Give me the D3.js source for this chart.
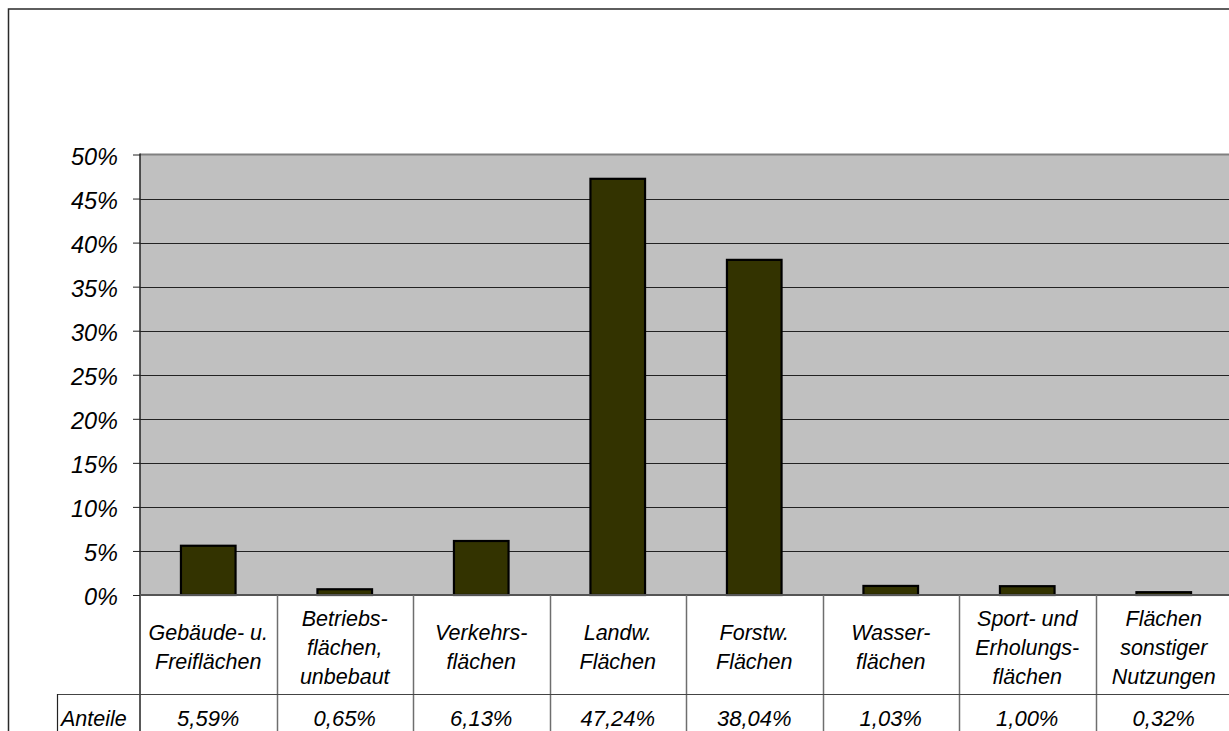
<!DOCTYPE html>
<html>
<head>
<meta charset="utf-8">
<script src="https://cdn.jsdelivr.net/npm/d3@7"></script>
<style>
  html, body { margin: 0; padding: 0; background: #ffffff; }
  svg { display: block; }
  text { font-family: "Liberation Sans", Arial, sans-serif; font-style: italic; fill: #000; }
</style>
</head>
<body>
<svg id="chart" width="1229" height="731"></svg>
<script>
// Flächennutzung: Anteile der Nutzungsarten an der Gesamtfläche
const categories = [
  "Gebäude- u. Freiflächen",
  "Betriebsflächen, unbebaut",
  "Verkehrsflächen",
  "Landw. Flächen",
  "Forstw. Flächen",
  "Wasserflächen",
  "Sport- und Erholungsflächen",
  "Flächen sonstiger Nutzungen"
];
// Zeilenumbrüche der Kategorienbeschriftung in der Tabelle
const categoryLines = [
  ["Gebäude- u.", "Freiflächen"],
  ["Betriebs-", "flächen,", "unbebaut"],
  ["Verkehrs-", "flächen"],
  ["Landw.", "Flächen"],
  ["Forstw.", "Flächen"],
  ["Wasser-", "flächen"],
  ["Sport- und", "Erholungs-", "flächen"],
  ["Flächen", "sonstiger", "Nutzungen"]
];
const seriesName = "Anteile";
const anteile = [5.59, 0.65, 6.13, 47.24, 38.04, 1.03, 1.00, 0.32];
const yTicks = [0, 5, 10, 15, 20, 25, 30, 35, 40, 45, 50];

const de = d3.formatLocale({ decimal: ",", thousands: ".", grouping: [3], currency: ["", " €"] });
const fmtValue = v => de.format(".2f")(v) + "%";
const fmtTick = v => v + "%";

const svg = d3.select("#chart");

// Layout
const plotLeft = 140, plotRight = 1232, plotTop = 154.5, plotBottom = 595;
const rowCatBottom = 694, rowValBottom = 760, tableLeft = 57;

const x = d3.scaleBand().domain(categories).range([plotLeft, plotRight]).padding(0);
const y = d3.scaleLinear().domain([0, 50]).range([plotBottom, plotTop]);
const step = x.step();

// Outer frame
svg.append("rect")
  .attr("x", 8.5).attr("y", 9).attr("width", 1300).attr("height", 800)
  .attr("fill", "none").attr("stroke", "#2a2a2a").attr("stroke-width", 1.5);

// Plot background
svg.append("rect")
  .attr("x", plotLeft).attr("y", plotTop)
  .attr("width", plotRight - plotLeft).attr("height", plotBottom - plotTop)
  .attr("fill", "#c0c0c0");

// Gridlines
svg.append("g").selectAll("line")
  .data(yTicks.filter(t => t > 0 && t < 50))
  .join("line")
  .attr("x1", plotLeft).attr("x2", plotRight)
  .attr("y1", d => Math.round(y(d)) + 0.5).attr("y2", d => Math.round(y(d)) + 0.5)
  .attr("stroke", "#222").attr("stroke-width", 1);

// Plot top border
svg.append("line")
  .attr("x1", plotLeft).attr("x2", plotRight)
  .attr("y1", plotTop).attr("y2", plotTop)
  .attr("stroke", "#808080").attr("stroke-width", 2);

// Bars
const barW = step * 0.4;
svg.append("g").selectAll("rect")
  .data(anteile)
  .join("rect")
  .attr("x", (d, i) => x(categories[i]) + (step - barW) / 2)
  .attr("y", d => y(d))
  .attr("width", barW)
  .attr("height", d => y(0) - y(d))
  .attr("fill", "#333300")
  .attr("stroke", "#000")
  .attr("stroke-width", 2.2);

// Y axis
const yAxis = d3.axisLeft(y).tickValues(yTicks).tickFormat(fmtTick).tickSize(7).tickPadding(15);
const gy = svg.append("g").attr("transform", `translate(${plotLeft},0)`).call(yAxis);
gy.select(".domain").remove();
gy.selectAll(".tick line").attr("stroke", "#222").attr("stroke-width", 1);
gy.selectAll(".tick text")
  .attr("font-family", "Liberation Sans, Arial, sans-serif")
  .attr("font-style", "italic")
  .attr("font-size", 23.5)
  .attr("fill", "#000")
  .attr("dy", "0.42em");
svg.append("line")
  .attr("x1", plotLeft).attr("x2", plotLeft)
  .attr("y1", plotTop - 1).attr("y2", rowValBottom)
  .attr("stroke", "#222").attr("stroke-width", 1.5);

// X axis line (plot bottom)
svg.append("line")
  .attr("x1", plotLeft).attr("x2", plotRight)
  .attr("y1", plotBottom).attr("y2", plotBottom)
  .attr("stroke", "#555").attr("stroke-width", 2);

// Data table: column separators
svg.append("g").selectAll("line")
  .data(categories.slice(1))
  .join("line")
  .attr("x1", d => Math.round(x(d)) + 0.5).attr("x2", d => Math.round(x(d)) + 0.5)
  .attr("y1", plotBottom).attr("y2", rowValBottom)
  .attr("stroke", "#6e6e6e").attr("stroke-width", 1.5);

// Row separator and series cell
svg.append("line")
  .attr("x1", tableLeft).attr("x2", plotRight)
  .attr("y1", rowCatBottom + 0.5).attr("y2", rowCatBottom + 0.5)
  .attr("stroke", "#444").attr("stroke-width", 1.2);
svg.append("line")
  .attr("x1", tableLeft + 0.5).attr("x2", tableLeft + 0.5)
  .attr("y1", rowCatBottom).attr("y2", rowValBottom)
  .attr("stroke", "#222").attr("stroke-width", 1.2);

// Category labels
const catRowMid = (plotBottom + rowCatBottom) / 2;
const lineH = 29;
const catG = svg.append("g").selectAll("text")
  .data(categoryLines)
  .join("text")
  .attr("text-anchor", "middle")
  .attr("font-size", 21.5)
  .attr("x", (d, i) => x(categories[i]) + step / 2);
catG.selectAll("tspan")
  .data(d => d.map((s, j) => ({ s, j, n: d.length })))
  .join("tspan")
  .attr("x", function () { return d3.select(this.parentNode).attr("x"); })
  .attr("y", d => catRowMid + 10 + (d.j - (d.n - 1) / 2) * lineH)
  .text(d => d.s);

// Value row
const valBase = 726;
svg.append("text")
  .attr("x", 61).attr("y", valBase)
  .attr("font-size", 21.5)
  .text(seriesName);
svg.append("g").selectAll("text")
  .data(anteile)
  .join("text")
  .attr("text-anchor", "middle")
  .attr("font-size", 22)
  .attr("x", (d, i) => x(categories[i]) + step / 2)
  .attr("y", valBase)
  .text(d => fmtValue(d));
</script>
</body>
</html>
